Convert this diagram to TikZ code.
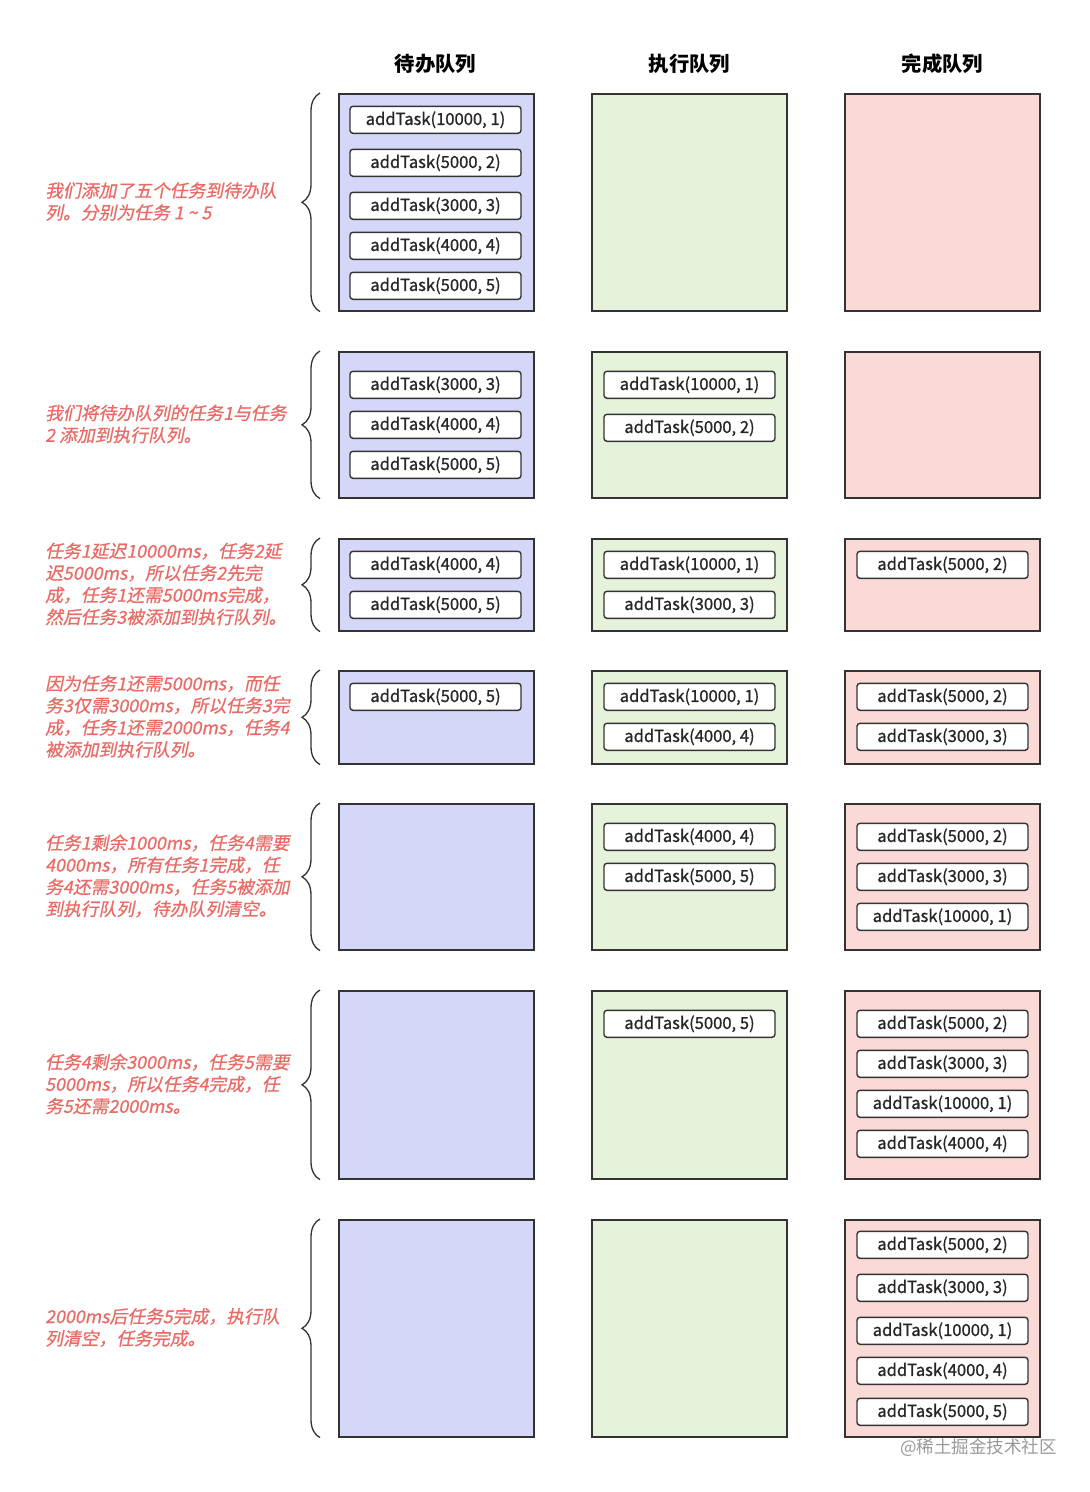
\documentclass[tikz,border=0pt]{standalone}
\usepackage{fontspec}
\setmainfont{Noto Sans CJK SC}
\newfontfamily\notefont[FakeSlant=0.2, FakeBold=0.7]{Noto Sans CJK SC}
\newfontfamily\taskfont[FakeBold=0.8]{Noto Sans CJK SC}
\usetikzlibrary{decorations.pathreplacing}
\definecolor{waitfill}{HTML}{D4D7F8}
\definecolor{runfill}{HTML}{E4F3D9}
\definecolor{donefill}{HTML}{F9DAD7}
\definecolor{notered}{HTML}{EA6B66}
\definecolor{edge}{HTML}{333333}
\begin{document}
\begin{tikzpicture}[x=1pt, y=-1pt,
    queue/.style={draw=edge, line width=1.6pt, inner sep=0pt, anchor=north west, minimum width=195pt},
    task/.style={draw=edge, line width=1.4pt, fill=white, rounded corners=3pt, minimum width=171pt, minimum height=27pt, inner sep=0pt, text=black!85, font=\taskfont\fontsize{16.6}{18}\selectfont},
    note/.style={text=notered, anchor=west, align=left, inner sep=0pt, font=\notefont\fontsize{17.8}{22}\selectfont},
    head/.style={font=\bfseries\fontsize{20.3}{22}\selectfont},
    brace/.style={draw=edge, line width=1.3pt, decorate, decoration={brace, amplitude=18pt}}]
  \fill[white] (0,0) rectangle (1090,1492);
  \useasboundingbox (0,0) rectangle (1090,1492);
  \def\xw{435.5} \def\xr{689.5} \def\xd{942.5}
  % column heads
  \node[head] (hw) at (\xw,64) {待办队列};
  \node[head] (hr) at (\xr,64) {执行队列};
  \node[head] (hd) at (\xd,64) {完成队列};
  % queue boxes and braces, one row per step
  \foreach \r/\top/\bot in {1/93/310, 2/351/497, 3/538/630, 4/670/763, 5/803/949, 6/990/1178, 7/1219/1436} {
    \pgfmathsetmacro\h{\bot-\top}
    \node[queue, fill=waitfill, minimum height=\h pt] (w\r) at (338,\top) {};
    \node[queue, fill=runfill, minimum height=\h pt] (r\r) at (591,\top) {};
    \node[queue, fill=donefill, minimum height=\h pt] (d\r) at (844,\top) {};
    \draw[brace] ([xshift=-18pt]w\r.south west) -- ([xshift=-18pt]w\r.north west);
  }
  % tasks
  \foreach \q/\y/\arg [count=\i] in {
      \xw/119/{10000, 1}, \xw/162/{5000, 2}, \xw/205/{3000, 3}, \xw/245/{4000, 4}, \xw/285/{5000, 5},
      \xw/384/{3000, 3}, \xw/424/{4000, 4}, \xw/464/{5000, 5}, \xr/384/{10000, 1}, \xr/427/{5000, 2},
      \xw/564/{4000, 4}, \xw/604/{5000, 5}, \xr/564/{10000, 1}, \xr/604/{3000, 3}, \xd/564/{5000, 2},
      \xw/696/{5000, 5}, \xr/696/{10000, 1}, \xr/736/{4000, 4}, \xd/696/{5000, 2}, \xd/736/{3000, 3},
      \xr/836/{4000, 4}, \xr/876/{5000, 5}, \xd/836/{5000, 2}, \xd/876/{3000, 3}, \xd/916/{10000, 1},
      \xr/1023/{5000, 5}, \xd/1023/{5000, 2}, \xd/1063/{3000, 3}, \xd/1103/{10000, 1}, \xd/1143/{4000, 4},
      \xd/1244/{5000, 2}, \xd/1287/{3000, 3}, \xd/1330/{10000, 1}, \xd/1370/{4000, 4}, \xd/1411/{5000, 5}}
    \node[task] (t\i) at (\q,\y+0.8) {addTask(\arg)};
  % notes
  \node[note] (n1) at (45,201.5) {我们添加了五个任务到待办队\\列。分别为任务 1 \textasciitilde{} 5};
  \node[note] (n2) at (45,424) {我们将待办队列的任务1与任务\\2 添加到执行队列。};
  \node[note] (n3) at (45,584) {任务1延迟10000ms，任务2延\\迟5000ms，所以任务2先完\\成，任务1还需5000ms完成，\\然后任务3被添加到执行队列。};
  \node[note] (n4) at (45,716.5) {因为任务1还需5000ms，而任\\务3仅需3000ms，所以任务3完\\成，任务1还需2000ms，任务4\\被添加到执行队列。};
  \node[note] (n5) at (45,876) {任务1剩余1000ms，任务4需要\\4000ms，所有任务1完成，任\\务4还需3000ms，任务5被添加\\到执行队列，待办队列清空。};
  \node[note] (n6) at (45,1084) {任务4剩余3000ms，任务5需要\\5000ms，所以任务4完成，任\\务5还需2000ms。};
  \node[note] (n7) at (45,1327.5) {2000ms后任务5完成，执行队\\列清空，任务完成。};
  \node[text=black!40, anchor=east, inner sep=0pt, font=\fontsize{17.5}{18}\selectfont] (mark) at (1057,1448) {@稀土掘金技术社区};
\end{tikzpicture}
\end{document}
